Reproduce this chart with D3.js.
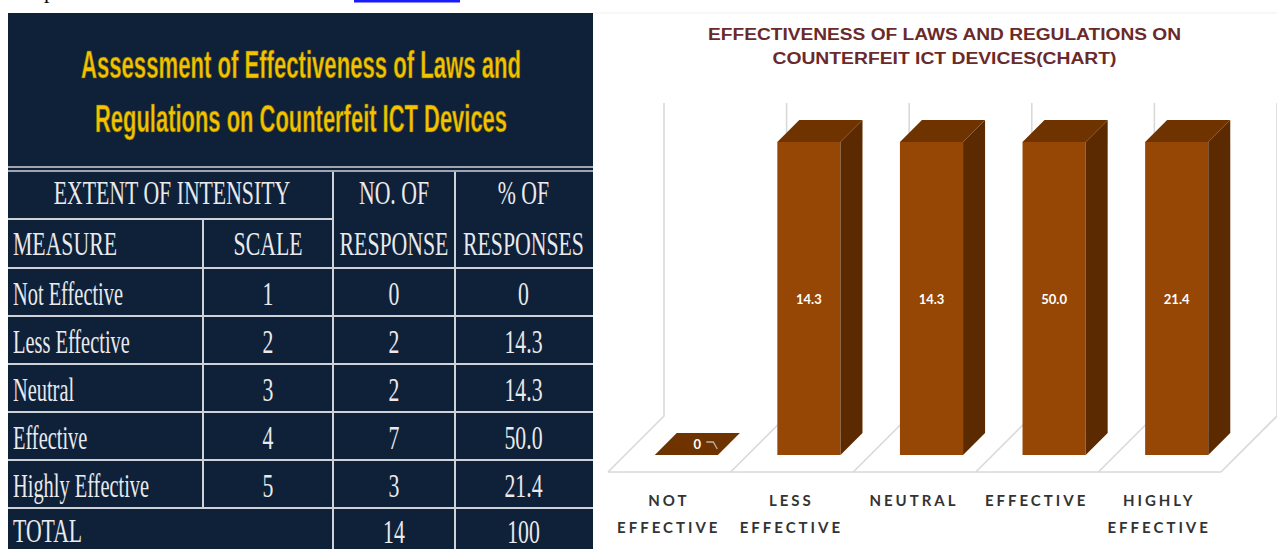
<!DOCTYPE html>
<html><head><meta charset="utf-8">
<script src="https://cdn.jsdelivr.net/npm/d3@7"></script>
<style>html,body{margin:0;padding:0;background:#fff;overflow:hidden}</style>
</head><body><svg id="c" width="1277" height="549"></svg>
<script>
// ---------- data ----------
const categories = ["NOT EFFECTIVE", "LESS EFFECTIVE", "NEUTRAL", "EFFECTIVE", "HIGHLY EFFECTIVE"];
const categoryLines = [["NOT", "EFFECTIVE"], ["LESS", "EFFECTIVE"], ["NEUTRAL"], ["EFFECTIVE"], ["HIGHLY", "EFFECTIVE"]];
const percentValues = [0, 14.3, 14.3, 50.0, 21.4];
const valueLabels = ["0", "14.3", "14.3", "50.0", "21.4"];
const axisMax = 14; // value-axis maximum used by the original chart (taller bars are clipped)
const chartTitle = ["EFFECTIVENESS OF LAWS AND REGULATIONS ON", "COUNTERFEIT ICT DEVICES(CHART)"];

const tableTitle = ["Assessment of Effectiveness of Laws and", "Regulations on Counterfeit ICT Devices"];
const measures = ["Not Effective", "Less Effective", "Neutral", "Effective", "Highly Effective"];
const scaleValues = ["1", "2", "3", "4", "5"];
const responseCounts = ["0", "2", "2", "7", "3"];
const percentLabels = ["0", "14.3", "14.3", "50.0", "21.4"];
const totalLabel = "TOTAL";
const totalResponses = "14";
const totalPercent = "100";

// ---------- setup ----------
const svg = d3.select("#c");

// document remnants at very top
svg.append("text").attr("x", 44).attr("y", -2).attr("font-family", "Liberation Serif")
  .attr("font-size", 22).attr("fill", "#000").text("p");
svg.append("rect").attr("x", 354).attr("y", 0).attr("width", 106).attr("height", 2.5).attr("fill", "#1a1aff");

// ---------- LEFT TABLE ----------
const navy = "#0f2139";
const lineCol = "#cfd2d6";
const T = svg.append("g");
T.append("rect").attr("x", 8).attr("y", 13).attr("width", 585).attr("height", 540).attr("fill", navy);

// title
tableTitle.forEach((s, i) => {
  T.append("text").attr("x", 301).attr("y", [78, 132][i]).attr("text-anchor", "middle")
    .attr("font-family", "Liberation Sans").attr("font-weight", "bold").attr("font-size", 38)
    .attr("fill", "#f3c300").attr("stroke", "#6b5a00").attr("stroke-width", 0.6)
    .attr("textLength", [440, 412][i]).attr("lengthAdjust", "spacingAndGlyphs").text(s);
});

// grid lines
const L = (x1, y1, x2, y2, w = 2) => T.append("line").attr("x1", x1).attr("y1", y1).attr("x2", x2).attr("y2", y2)
  .attr("stroke", lineCol).attr("stroke-width", w);
L(8, 167, 593, 167, 1.6); L(8, 171, 593, 171, 1.6);
L(8, 219, 333, 219);
const rowTop = 268, rowH = 48;
const rowY = i => rowTop + i * rowH;
for (let i = 0; i <= 5; i++) L(8, rowY(i), 593, rowY(i));
L(203, 219, 203, rowY(5));
L(333, 172, 333, 549);
L(455, 172, 455, 549);

const tt = (str, x, y, anchor, sx = 0.64) => T.append("text")
  .attr("transform", `translate(${x},${y}) scale(${sx},1)`).attr("text-anchor", anchor)
  .attr("font-family", "Liberation Serif").attr("font-size", 34).attr("fill", "#e9eaec").text(str);

const colMid = { scale: 268, resp: 394, pct: 523.5 };
tt("EXTENT OF INTENSITY", 172, 204, "middle");
tt("NO. OF", colMid.resp, 204, "middle");
tt("% OF", colMid.pct, 204, "middle");
tt("MEASURE", 13, 255, "start");
tt("SCALE", colMid.scale, 255, "middle");
tt("RESPONSE", colMid.resp, 255, "middle");
tt("RESPONSES", colMid.pct, 255, "middle");
measures.forEach((m, i) => {
  const b = rowY(i) + 36.5;
  tt(m, 13, b, "start", 0.6);
  tt(scaleValues[i], colMid.scale, b, "middle");
  tt(responseCounts[i], colMid.resp, b, "middle");
  tt(percentLabels[i], colMid.pct, b, "middle");
});
tt(totalLabel, 13, rowY(5) + 34, "start");
tt(totalResponses, colMid.resp, rowY(5) + 35, "middle");
tt(totalPercent, colMid.pct, rowY(5) + 35, "middle");

// ---------- RIGHT 3D CHART ----------
const C = svg.append("g");
C.append("line").attr("x1", 595).attr("y1", 13).attr("x2", 1277).attr("y2", 13).attr("stroke", "#efefef");

chartTitle.forEach((s, i) => {
  C.append("text").attr("x", 944.5).attr("y", [40, 64][i]).attr("text-anchor", "middle")
    .attr("font-family", "Liberation Sans").attr("font-weight", "bold").attr("font-size", 16)
    .attr("fill", "#6a2a2a").attr("textLength", [473, 344][i]).attr("lengthAdjust", "spacingAndGlyphs").text(s);
});

const floorY = 472, depth = 56, dFront = 17, dBack = 39;
const x = d3.scaleBand().domain(categories).range([608, 1221]).paddingInner(0).paddingOuter(0);
const h = d3.scaleLinear().domain([0, axisMax]).range([0, 313]).clamp(true);
const P = (px, hh, d) => [px + d, floorY - hh - d];
const grid = "#d9d9d9";

// floor & wall grid
const bounds = categories.map(c => x(c)).concat([x(categories[categories.length - 1]) + x.bandwidth()]);
const topH = h(axisMax);
C.append("line").attr("x1", bounds[0]).attr("y1", floorY).attr("x2", bounds[bounds.length - 1]).attr("y2", floorY)
  .attr("stroke", grid).attr("stroke-width", 1.6);
bounds.forEach(b => {
  const f = P(b, 0, 0), bk = P(b, 0, depth), tp = P(b, topH, depth);
  C.append("path").attr("d", `M${f}L${bk}L${tp}`).attr("fill", "none").attr("stroke", grid).attr("stroke-width", 1.6);
});

// bars
const bw = x.bandwidth() * 0.515;
const cFront = "#974705", cTop = "#6f3300", cSide = "#5c2a00";
const bars = C.append("g").selectAll("g").data(categories).join("g");
bars.each(function (c, i) {
  const g = d3.select(this);
  const x0 = x(c) + (x.bandwidth() - bw) / 2, x1 = x0 + bw;
  const hv = h(percentValues[i]);
  const poly = pts => "M" + pts.map(p => p.join(",")).join("L") + "Z";
  if (hv > 0) {
    g.append("path").attr("d", poly([P(x0, 0, dFront), P(x1, 0, dFront), P(x1, hv, dFront), P(x0, hv, dFront)])).attr("fill", cFront);
    g.append("path").attr("d", poly([P(x1, 0, dFront), P(x1, 0, dBack), P(x1, hv, dBack), P(x1, hv, dFront)])).attr("fill", cSide);
  }
  g.append("path").attr("d", poly([P(x0, hv, dFront), P(x1, hv, dFront), P(x1, hv, dBack), P(x0, hv, dBack)])).attr("fill", cTop);
  if (hv > 0) {
    const [lx, ly] = P((x0 + x1) / 2, hv / 2, dFront);
    g.append("text").attr("x", lx).attr("y", ly + 5).attr("text-anchor", "middle")
      .attr("font-family", "Lato").attr("font-weight", "bold").attr("font-size", 13).attr("fill", "#fff").text(valueLabels[i]);
  } else {
    const [lx, ly] = P((x0 + x1) / 2, 0, (dFront + dBack) / 2);
    g.append("text").attr("x", lx).attr("y", ly + 5).attr("text-anchor", "middle")
      .attr("font-family", "Lato").attr("font-weight", "bold").attr("font-size", 13).attr("fill", "#fff").text(valueLabels[i]);
    g.append("path").attr("d", `M${lx + 9},${ly - 2}L${lx + 16},${ly - 2}L${lx + 20},${ly + 5}`)
      .attr("fill", "none").attr("stroke", "#b5b5b5").attr("stroke-width", 1.3);
  }
});

// category labels
categories.forEach((c, i) => {
  const cx = x(c) + x.bandwidth() / 2 - 2;
  categoryLines[i].forEach((s, j) => {
    C.append("text").attr("x", cx + 1.5).attr("y", 506 + j * 27).attr("text-anchor", "middle")
      .attr("font-family", "Lato").attr("font-weight", "bold").attr("font-size", 15)
      .attr("letter-spacing", 3).attr("fill", "#333333").text(s);
  });
});
</script>
</body></html>
